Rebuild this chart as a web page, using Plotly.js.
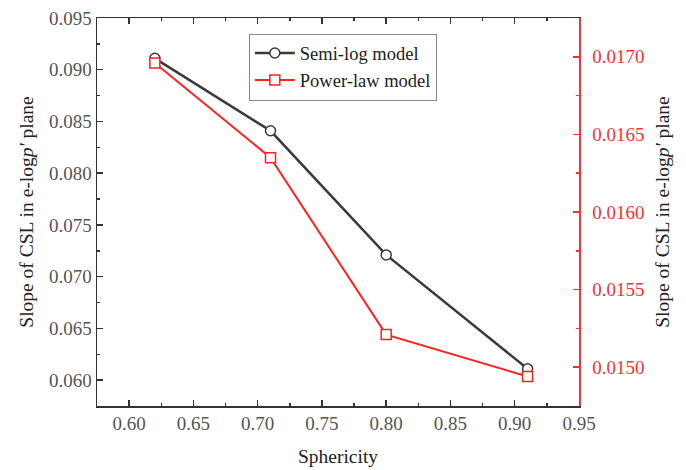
<!DOCTYPE html>
<html>
<head>
<meta charset="utf-8">
<script src="https://cdn.plot.ly/plotly-3.0.1.min.js"></script>
<style>html,body{margin:0;padding:0;background:#fff;}#chart{width:686px;height:470px;}</style>
</head>
<body>
<div id="chart"></div>
<script>
const sphericity = [0.62, 0.71, 0.80, 0.91];
const semiLogSlope = [0.0911, 0.0841, 0.0721, 0.0611];
const powerLawSlope = [0.01696, 0.01635, 0.01521, 0.01494];
const seriesNames = ["Semi-log model", "Power-law model"];

const font = "Liberation Serif, serif";

const traces = [
  {
    x: sphericity, y: semiLogSlope, name: seriesNames[0], type: "scatter", mode: "lines+markers",
    line: {color: "#3a3a3a", width: 2.5},
    marker: {symbol: "circle", size: 10, color: "#ffffff", line: {color: "#3a3a3a", width: 1.5}},
    yaxis: "y"
  },
  {
    x: sphericity, y: powerLawSlope, name: seriesNames[1], type: "scatter", mode: "lines+markers",
    line: {color: "#ff2020", width: 2},
    marker: {symbol: "square", size: 10, color: "#ffffff", line: {color: "#ff2020", width: 1.5}},
    yaxis: "y2"
  }
];

const layout = {
  width: 686, height: 470,
  margin: {l: 97, r: 107, t: 17.5, b: 64},
  paper_bgcolor: "#fff", plot_bgcolor: "#fff",
  font: {family: font, size: 19, color: "#444"},
  showlegend: true,
  legend: {
    x: 0.315, y: 0.96, xanchor: "left", yanchor: "top",
    bordercolor: "#888", borderwidth: 1, bgcolor: "#fff",
    font: {family: font, size: 18.5, color: "#222"},
    tracegroupgap: 0, itemwidth: 40
  },
  xaxis: {
    range: [0.575, 0.95], dtick: 0.05, tick0: 0.6, tickformat: ".2f",
    ticks: "inside", ticklen: 6, tickwidth: 1.5, tickcolor: "#333",
    minor: {ticks: "inside", ticklen: 3, dtick: 0.025, tick0: 0.6, tickcolor: "#333", tickwidth: 1.5},
    showline: true, linecolor: "#333", linewidth: 1.5, mirror: "ticks",
    showgrid: false, zeroline: false,
    tickfont: {family: font, size: 19, color: "#555"},
    title: {text: "Sphericity", font: {family: font, size: 19.5, color: "#222"}, standoff: 16}
  },
  yaxis: {
    range: [0.0575, 0.095], dtick: 0.005, tick0: 0.06, tickformat: ".3f",
    ticks: "inside", ticklen: 6, tickwidth: 1.5, tickcolor: "#333",
    minor: {ticks: "inside", ticklen: 3, dtick: 0.0025, tick0: 0.06, tickcolor: "#333", tickwidth: 1.5},
    showline: true, linecolor: "#333", linewidth: 1.5,
    showgrid: false, zeroline: false,
    tickfont: {family: font, size: 19, color: "#555"},
    title: {text: "Slope of CSL in e-log<i>p'</i> plane", font: {family: font, size: 19.5, color: "#222"}, standoff: 10}
  },
  yaxis2: {
    overlaying: "y", side: "right",
    range: [0.01475, 0.01725], dtick: 0.0005, tick0: 0.015, tickformat: ".4f",
    ticks: "inside", ticklen: 6, tickwidth: 1.5, tickcolor: "#ff3030",
    minor: {ticks: "inside", ticklen: 3, dtick: 0.00025, tick0: 0.015, tickcolor: "#ff3030", tickwidth: 1.5},
    showline: true, linecolor: "#ff3030", linewidth: 1.5,
    showgrid: false, zeroline: false, ticklabelstandoff: 8,
    tickfont: {family: font, size: 19, color: "#ff3030"},
    title: {text: "Slope of CSL in e-log<i>p'</i> plane", font: {family: font, size: 19.5, color: "#222"}, standoff: 12}
  }
};

Plotly.newPlot("chart", traces, layout, {displayModeBar: false, staticPlot: true});
</script>
</body>
</html>
